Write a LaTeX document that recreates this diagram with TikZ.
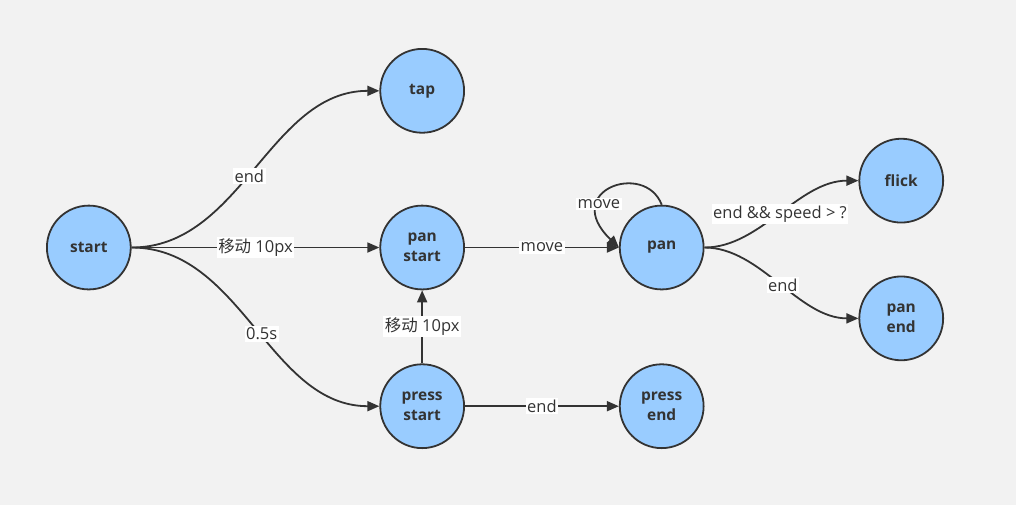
\documentclass[tikz,border=0pt]{standalone}
\usepackage{fontspec}
\setmainfont{Open Sans}
\newfontfamily\cjk{Noto Sans CJK SC}
\usetikzlibrary{arrows.meta}
\definecolor{nodefill}{HTML}{99CCFF}
\definecolor{stroke}{HTML}{333333}
\definecolor{bg}{HTML}{F2F2F2}
\tikzset{
  state/.style={circle, draw=stroke, fill=nodefill, line width=1.8pt, minimum size=84pt, inner sep=0pt,
    font=\fontsize{15.5}{20}\selectfont\bfseries, text=stroke, align=center},
  conn/.style={draw=stroke, line width=1.8pt, -{Triangle[length=12pt,width=10pt]}},
  elabel/.style={fill=white, inner sep=1.5pt, font=\fontsize{16.5}{19}\selectfont, text=stroke}
}
\begin{document}
\begin{tikzpicture}[x=1pt,y=-1pt]
\fill[bg] (-1,-1) rectangle (1017,505);
\useasboundingbox (0,0) rectangle (1016,504);
\node[state] (start) at (88,247) {start};
\node[state] (tap) at (422,90) {tap};
\node[state] (panstart) at (422,247) {pan\\start};
\node[state] (pressstart) at (422,406) {press\\start};
\node[state] (pan) at (662,247) {pan};
\node[state] (pressend) at (662,406) {press\\end};
\node[state] (flick) at (902,180) {flick};
\node[state] (panend) at (902,318) {pan\\end};

\draw[conn] (start.east) .. controls +(110,0) and +(-110,0) .. (tap.west)
  node[elabel, pos=0.47] {end};
\draw[conn] (start.east) -- (panstart.west)
  node[elabel, midway] {{\cjk 移动} 10px};
\draw[conn] (start.east) .. controls +(110,0) and +(-110,0) .. (pressstart.west)
  node[elabel, pos=0.53] {0.5s};
\draw[conn] (panstart.east) -- (pan.west)
  node[elabel, midway] {move};
\draw[conn] (pan.north) .. controls (645,160) and (560,190) .. (pan.west);
\node[elabel] (loopl) at (599,203) {move};
\draw[conn] (pressstart.north) -- (panstart.south)
  node[elabel, midway] {{\cjk 移动} 10px};
\draw[conn] (pressstart.east) -- (pressend.west)
  node[elabel, midway] {end};
\draw[conn] (pan.east) .. controls +(56,0) and +(-60,0) .. (flick.west)
  node[elabel, pos=0.5] {end \&\& speed > ?};
\draw[conn] (pan.east) .. controls +(56,0) and +(-60,0) .. (panend.west)
  node[elabel, pos=0.52] {end};
\end{tikzpicture}
\end{document}
